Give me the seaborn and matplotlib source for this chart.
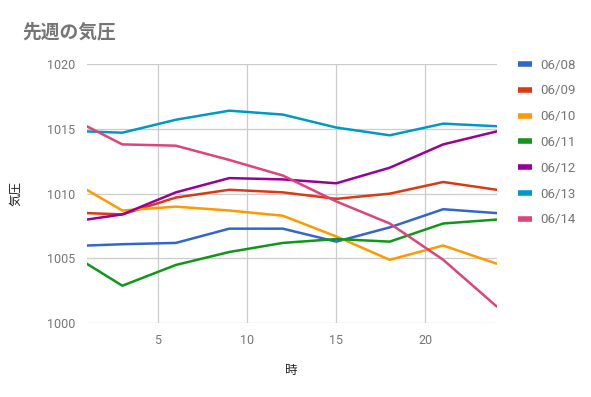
import matplotlib
matplotlib.use("Agg")
import matplotlib.pyplot as plt
import pandas as pd
import seaborn as sns

hours = [1, 3, 6, 9, 12, 15, 18, 21, 24]
dates = ["06/08", "06/09", "06/10", "06/11", "06/12", "06/13", "06/14"]
p_0608 = [1006.0, 1006.1, 1006.2, 1007.3, 1007.3, 1006.3, 1007.4, 1008.8, 1008.5]
p_0609 = [1008.5, 1008.4, 1009.7, 1010.3, 1010.1, 1009.6, 1010.0, 1010.9, 1010.3]
p_0610 = [1010.3, 1008.7, 1009.0, 1008.7, 1008.3, 1006.7, 1004.9, 1006.0, 1004.6]
p_0611 = [1004.6, 1002.9, 1004.5, 1005.5, 1006.2, 1006.5, 1006.3, 1007.7, 1008.0]
p_0612 = [1008.0, 1008.4, 1010.1, 1011.2, 1011.1, 1010.8, 1012.0, 1013.8, 1014.8]
p_0613 = [1014.8, 1014.7, 1015.7, 1016.4, 1016.1, 1015.1, 1014.5, 1015.4, 1015.2]
p_0614 = [1015.2, 1013.8, 1013.7, 1012.6, 1011.4, 1009.4, 1007.7, 1004.9, 1001.3]

colors = ["#3366cc", "#dc3912", "#ff9900", "#109618", "#990099", "#0099c6", "#dd4477"]

series = [p_0608, p_0609, p_0610, p_0611, p_0612, p_0613, p_0614]
rows = []
for date, values in zip(dates, series):
    for h, v in zip(hours, values):
        rows.append({"時": h, "気圧": v, "日付": date})
df = pd.DataFrame(rows)

sns.set_theme(style="white")
plt.rcParams["font.family"] = ["Roboto", "Noto Sans CJK JP", "DejaVu Sans"]

fig = plt.figure(figsize=(5.91, 3.97), dpi=100)
ax = fig.add_axes([0.1467, 0.1856, 0.6937, 0.6532])

sns.lineplot(
    data=df,
    x="時",
    y="気圧",
    hue="日付",
    hue_order=dates,
    palette=colors,
    linewidth=1.8,
    ax=ax,
    legend=False,
)

ax.set_xlim(1, 24)
ax.set_ylim(1000, 1020)
ax.set_xticks([5, 10, 15, 20])
ax.set_yticks([1000, 1005, 1010, 1015, 1020])
ax.grid(True, color="#cccccc", linewidth=0.9)
for s in ax.spines.values():
    s.set_visible(False)
ax.tick_params(axis="both", length=0, labelsize=9, labelcolor="#757575", pad=8)
ax.set_axisbelow(True)

ax.set_xlabel("時", fontsize=9, color="#222222")
ax.set_ylabel("気圧", fontsize=9, color="#222222")
ax.xaxis.set_label_coords(0.5, -0.155)
ax.yaxis.set_label_coords(-0.158, 0.5)

fig.text(0.037, 0.918, "先週の気圧", fontsize=13.5, fontweight="bold",
         color="#757575", va="center", ha="left")

handles = [plt.Line2D([], [], color=c, linewidth=4, solid_capstyle="butt") for c in colors]
fig.legend(
    handles,
    dates,
    loc="upper left",
    bbox_to_anchor=(0.866, 0.869),
    frameon=False,
    fontsize=9.5,
    labelcolor="#757575",
    handlelength=1.0,
    handletextpad=0.65,
    labelspacing=0.97,
    borderpad=0,
)

fig.savefig("out.png", dpi=100)
